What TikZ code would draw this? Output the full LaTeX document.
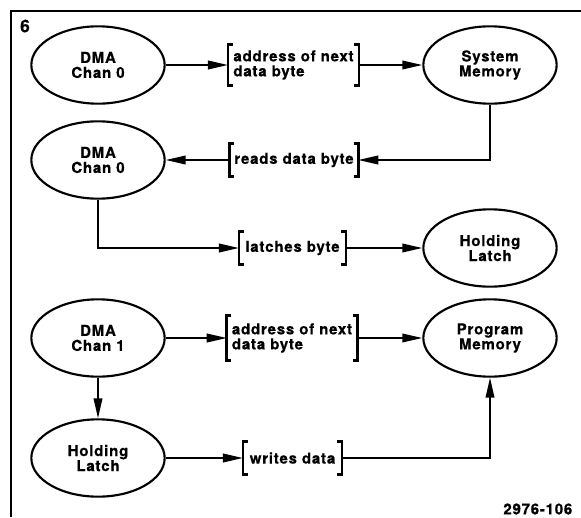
\documentclass[tikz,border=0pt]{standalone}
\usepackage{fontspec}
\setmainfont{TeX Gyre Heros}[LetterSpace=5, BoldFeatures={FakeBold=0.5}]
\usepackage{tikz}
\usetikzlibrary{arrows.meta}
\usetikzlibrary{shapes.geometric}

\newcommand{\labelfont}{\fontsize{11.3}{11.25}\selectfont\bfseries}

\tikzset{
  blob/.style={ellipse, draw, line width=1.6pt, minimum width=100pt,
    minimum height=58pt, inner sep=0pt, align=center, font=\labelfont},
  note/.style={align=left, inner sep=0pt, font=\labelfont},
  flow/.style={line width=1.3pt, -{Triangle[length=15pt,width=6.5pt]}},
  hook/.style={line width=2pt, line join=miter},
}

\begin{document}
\begin{tikzpicture}[x=0.75pt, y=-0.75pt]
  \useasboundingbox (0,0) rectangle (581,517);

  % Frame and figure number
  \draw[line width=1.7pt] (11,517) -- (11,11) -- (581,11);
  \node[font=\fontsize{13}{13}\selectfont\bfseries] (fig) at (25,26) {6};

  % Units
  \node[blob] (dmaA) at (98,65) {DMA\\Chan 0};
  \node[blob] (sysmem) at (490,65) {System\\Memory};
  \node[blob] (dmaB) at (98,160) {DMA\\Chan 0};
  \node[blob] (latchA) at (490,248) {Holding\\Latch};
  \node[blob] (dmaC) at (98,338) {DMA\\Chan 1};
  \node[blob] (progmem) at (490,338) {Program\\Memory};
  \node[blob] (latchB) at (98,458) {Holding\\Latch};

  % What travels on each path
  \node[note, minimum width=98pt, minimum height=30pt] (addrA) at (293.5,65) {address of next\\data byte};
  \node[note, minimum width=96pt, minimum height=24pt] (reads) at (294,160) {reads data byte};
  \node[note, minimum width=80pt, minimum height=24pt] (latches) at (292.5,248) {latches byte};
  \node[note, minimum width=97.5pt, minimum height=33pt] (addrB) at (292,338) {address of next\\data byte};
  \node[note, minimum width=74pt, minimum height=24pt] (writes) at (292.5,458) {writes data};

  \foreach \n in {addrA,reads,latches,addrB,writes}{
    \draw[hook] ([xshift=3.5pt]\n.north west) -- (\n.north west) -- (\n.south west) -- ++(3.5pt,0);
    \draw[hook] ([xshift=-3.5pt]\n.north east) -- (\n.north east) -- (\n.south east) -- ++(-3.5pt,0);
  }

  % Transfers
  \draw[flow] (dmaA) -- (addrA);
  \draw[flow] (addrA) -- (sysmem);
  \draw[flow] (sysmem.south) |- (reads.east);
  \draw[flow] (reads) -- (dmaB);
  \draw[flow] (dmaB.south) |- (latches.west);
  \draw[flow] (latches) -- (latchA);
  \draw[flow] (dmaC) -- (addrB);
  \draw[flow] (addrB) -- (progmem);
  \draw[flow] (dmaC) -- (latchB);
  \draw[flow] (latchB) -- (writes);
  \draw[flow] (writes.east) -| (progmem.south);

  \node[font=\labelfont, anchor=east] (tag) at (577,509) {2976-106};
\end{tikzpicture}
\end{document}
